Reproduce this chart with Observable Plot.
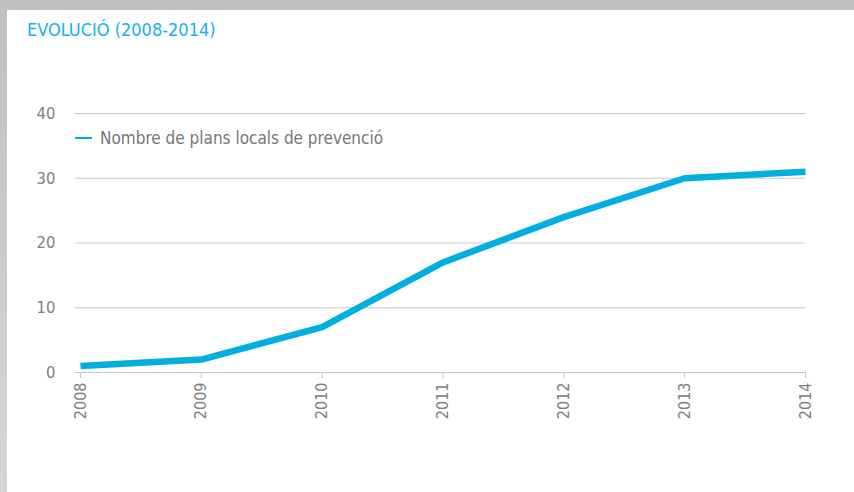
<!DOCTYPE html>
<html><head><meta charset="utf-8">
<script src="https://cdn.jsdelivr.net/npm/d3@7"></script>
<script src="https://cdn.jsdelivr.net/npm/@observablehq/plot@0.6"></script>
<style>
html,body{margin:0;padding:0;background:#fff;}
#wrap{position:relative;width:854px;height:492px;overflow:hidden;background:#fff;font-family:"Liberation Sans Narrow","DejaVu Sans Condensed",sans-serif;}
#topband{position:absolute;left:0;top:0;width:854px;height:10px;background:#c0c0c0;}
#leftband{position:absolute;left:0;top:0;width:7px;height:492px;background:linear-gradient(#c0c0c0,#d6d6d6);}
#title{position:absolute;left:27px;top:19px;font-size:18px;color:#1ab0e6;}
#legend{position:absolute;left:75px;top:128px;font-size:17px;color:#777;display:flex;align-items:center;}
#legend .sw{display:inline-block;width:17px;height:2px;background:#00aee0;margin-right:8px;}
#chart{position:absolute;left:0;top:0;}
</style></head>
<body><div id="wrap">
<div id="chart"></div>
<div id="topband"></div><div id="leftband"></div>
<div id="title">EVOLUCIÓ (2008-2014)</div>
<div id="legend"><span class="sw"></span><span id="legtext"></span></div>
</div>
<script>
const years = [2008, 2009, 2010, 2011, 2012, 2013, 2014];
const plans = [1, 2, 7, 17, 24, 30, 31];
const yTicks = [0, 10, 20, 30, 40];
const seriesName = "Nombre de plans locals de prevenció";

document.getElementById("legtext").textContent = seriesName;
const data = years.map((y, i) => ({year: y, value: plans[i]}));
const font = '"Liberation Sans Narrow","DejaVu Sans Condensed",sans-serif';

const chart = Plot.plot({
  width: 854, height: 492,
  marginLeft: 80, marginRight: 49, marginTop: 113, marginBottom: 120,
  style: {fontFamily: font, fontSize: "16px", color: "#777", background: "transparent"},
  x: {type: "linear", domain: [2008, 2014]},
  y: {domain: [0, 40]},
  marks: [
    Plot.ruleY(yTicks, {stroke: "#c8c8c8", strokeWidth: 1.2, insetLeft: -5}),
    Plot.axisY(yTicks, {tickSize: 0, tickPadding: 25, label: null, fill: "#808080", fontSize: 16.5}),
    Plot.axisX(years, {tickSize: 6, tickPadding: 4, tickRotate: -90, stroke: "#c8c8c8", fill: "#808080", label: null, tickFormat: d => String(d), fontSize: 16}),
    Plot.line(data, {x: "year", y: "value", stroke: "#00aee0", strokeWidth: 6.5, strokeLinejoin: "miter", strokeLinecap: "butt"})
  ]
});
document.getElementById("chart").appendChild(chart);
</script>
</body></html>
